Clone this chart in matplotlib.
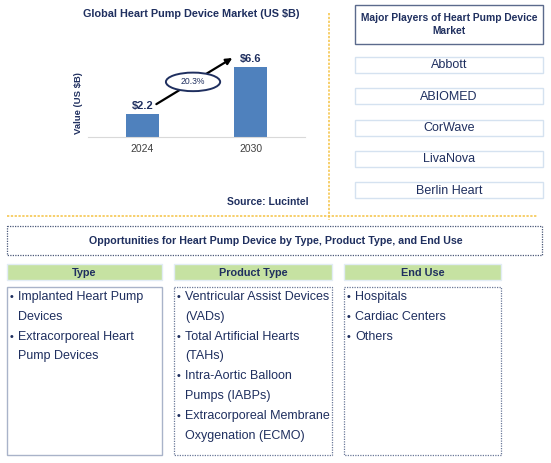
import matplotlib.pyplot as plt
from matplotlib.patches import Rectangle, Ellipse

plt.rcParams['font.family'] = ['Liberation Sans', 'DejaVu Sans']

# chart data
years = ['2024', '2030']
values = [2.2, 6.6]
cagr = '20.3%'

players = ['Abbott', 'ABIOMED', 'CorWave', 'LivaNova', 'Berlin Heart']

seg_titles = ['Type', 'Product Type', 'End Use']
seg_items = [
    ['Implanted Heart Pump\nDevices', 'Extracorporeal Heart\nPump Devices'],
    ['Ventricular Assist Devices\n(VADs)', 'Total Artificial Hearts\n(TAHs)',
     'Intra-Aortic Balloon\nPumps (IABPs)', 'Extracorporeal Membrane\nOxygenation (ECMO)'],
    ['Hospitals', 'Cardiac Centers', 'Others'],
]

navy = '#1f2f5f'
W, H = 551, 463

fig = plt.figure(figsize=(W / 100, H / 100), dpi=100)

# overlay in pixel coordinates for boxes and text
ov = fig.add_axes([0, 0, 1, 1])
ov.set_xlim(0, W)
ov.set_ylim(H, 0)
ov.axis('off')

ov.text(191, 14, 'Global Heart Pump Device Market (US $B)', ha='center', va='center',
        fontsize=7.8, fontweight='bold', color=navy)
ov.text(309, 202, 'Source: Lucintel', ha='right', va='center',
        fontsize=7.5, fontweight='bold', color=navy)

# yellow separators
ov.plot([329, 329], [13, 220], color='#f5c242', lw=1.1, ls=(0, (1.5, 1)))
ov.plot([7, 537], [216, 216], color='#f5c242', lw=1.1, ls=(0, (1.5, 1)))

# major players
ov.add_patch(Rectangle((355, 5), 188, 39, fill=False, ec='#5b6a8c', lw=1))
ov.text(449, 24.5, 'Major Players of Heart Pump Device\nMarket', ha='center', va='center',
        fontsize=7.4, fontweight='bold', color=navy, linespacing=1.35)
for i, p in enumerate(players):
    y0 = 57 + i * 31.25
    ov.add_patch(Rectangle((355, y0), 188, 16, fill=False, ec='#d5e2f0', lw=1))
    ov.text(449, y0 + 8.5, p, ha='center', va='center', fontsize=9, color=navy)

# opportunities box
ov.add_patch(Rectangle((7, 226), 535, 29, fill=False, ec='#4a5878', lw=0.9, ls=(0, (1, 1))))
ov.text(276, 241, 'Opportunities for Heart Pump Device by Type, Product Type, and End Use',
        ha='center', va='center', fontsize=7.7, fontweight='bold', color=navy)

lefts = [7, 174, 344]
rights = [162, 332, 501]
for k, (title, items) in enumerate(zip(seg_titles, seg_items)):
    x0, x1 = lefts[k], rights[k]
    ov.add_patch(Rectangle((x0, 264), x1 - x0, 16, fc='#c6e2a2', ec='#e2ecf5', lw=1))
    ov.text((x0 + x1) / 2, 272.5, title, ha='center', va='center',
            fontsize=7.8, fontweight='bold', color=navy)
    if k == 0:
        ov.add_patch(Rectangle((x0, 287), x1 - x0, 168, fill=False, ec='#a9b3c9', lw=1))
    else:
        ov.add_patch(Rectangle((x0, 287), x1 - x0, 168, fill=False, ec='#6a7898',
                               lw=0.9, ls=(0, (1, 1))))
    line = 0
    for item in items:
        for j, part in enumerate(item.split('\n')):
            y = 297 + line * 19.8
            if j == 0:
                ov.text(x0 + 3, y, '\u2022', ha='left', va='center', fontsize=7.5,
                        fontweight='bold', color=navy)
            ov.text(x0 + 11, y, part, ha='left', va='center', fontsize=9, color=navy)
            line += 1

# bar chart
ax = fig.add_axes([88 / W, (H - 137) / H, 217 / W, 106 / H])
ax.patch.set_alpha(0)
x = range(len(years))
ax.bar(x, values, width=0.305, color='#4f81bd')
ax.set_xlim(-0.5, 1.5)
ax.set_ylim(0, 10)
ax.set_xticks(list(x))
ax.set_xticklabels(years, fontsize=7.5, color='#404040')
ax.tick_params(axis='x', length=0, pad=5)
ax.set_yticks([])
for s in ['top', 'right', 'left']:
    ax.spines[s].set_visible(False)
ax.spines['bottom'].set_color('#d9d9d9')
ax.set_ylabel('Value (US $B)', fontsize=6.8, fontweight='bold', color=navy)
ax.yaxis.set_label_coords(-0.023, 0.32)
for i, v in enumerate(values):
    ax.text(i, v + 0.75, f'${v}', ha='center', va='center', fontsize=8,
            fontweight='bold', color=navy)

ax.annotate('', xy=(0.83, values[1] + 0.85), xytext=(0.13, values[0] + 0.9),
            arrowprops=dict(arrowstyle='-|>', color='black', lw=1.6, mutation_scale=9,
                            shrinkA=0, shrinkB=0))
ax.add_patch(Ellipse((0.468, 5.2), 0.5, 1.75, fc='white', ec=navy, lw=1.4, zorder=5))
ax.text(0.468, 5.2, cagr, ha='center', va='center', fontsize=6.2, color=navy, zorder=6)

fig.savefig('out.png', dpi=100)
